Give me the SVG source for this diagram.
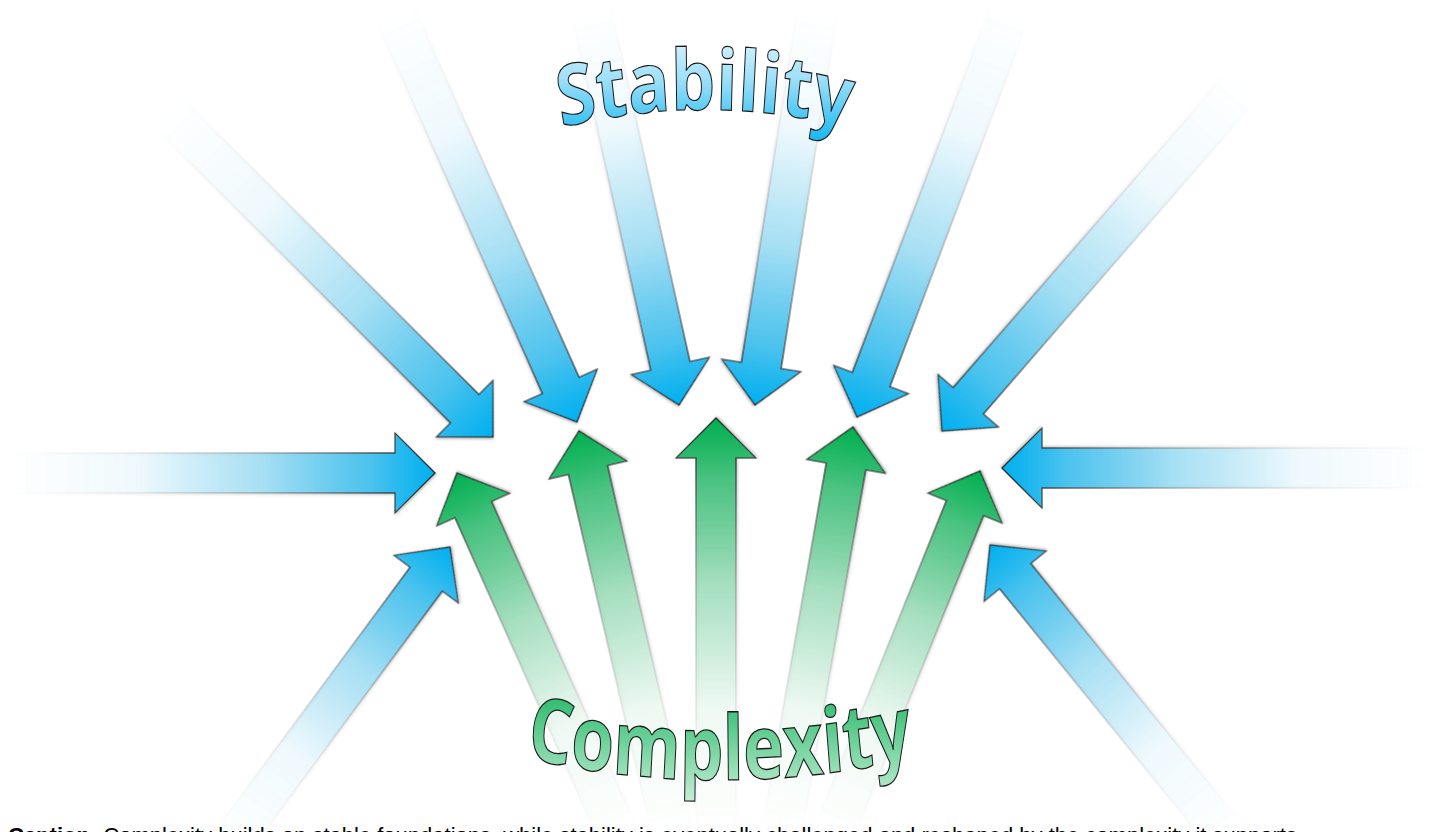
<svg xmlns="http://www.w3.org/2000/svg" width="1445" height="832" viewBox="0 0 1445 832">
<defs>
<linearGradient id="gBlue" x1="0" y1="0" x2="1" y2="0">
<stop offset="0" stop-color="#00b0f0" stop-opacity="0"/>
<stop offset="0.3" stop-color="#00b0f0" stop-opacity="0.05"/>
<stop offset="0.6" stop-color="#00b0f0" stop-opacity="0.3"/>
<stop offset="0.85" stop-color="#00b0f0" stop-opacity="0.65"/>
<stop offset="1" stop-color="#00b0f0" stop-opacity="1"/>
</linearGradient>
<linearGradient id="gGreen" x1="0" y1="0" x2="1" y2="0">
<stop offset="0" stop-color="#00b050" stop-opacity="0"/>
<stop offset="0.3" stop-color="#00b050" stop-opacity="0.05"/>
<stop offset="0.6" stop-color="#00b050" stop-opacity="0.3"/>
<stop offset="0.85" stop-color="#00b050" stop-opacity="0.65"/>
<stop offset="1" stop-color="#00b050" stop-opacity="1"/>
</linearGradient>
<linearGradient id="gStroke" x1="0" y1="0" x2="1" y2="0">
<stop offset="0" stop-color="#b0b0b0" stop-opacity="0"/>
<stop offset="0.25" stop-color="#9a9a9a" stop-opacity="0.15"/>
<stop offset="0.6" stop-color="#707070" stop-opacity="0.5"/>
<stop offset="1" stop-color="#202020" stop-opacity="0.95"/>
</linearGradient>
<linearGradient id="gStab" x1="0" y1="0" x2="0" y2="1">
<stop offset="0" stop-color="#f4fbfe"/>
<stop offset="0.45" stop-color="#9ee0f9"/>
<stop offset="1" stop-color="#00b0f0"/>
</linearGradient>
<linearGradient id="gComp" x1="0" y1="0" x2="0" y2="1">
<stop offset="0" stop-color="#00ac4e"/>
<stop offset="0.55" stop-color="#6ed19a"/>
<stop offset="1" stop-color="#cdf0da"/>
</linearGradient>
<filter id="shadow" x="-10%" y="-10%" width="120%" height="120%">
<feDropShadow dx="1.2" dy="1.2" stdDeviation="0.8" flood-color="#000" flood-opacity="0.25"/>
</filter>
<path id="arcStab" d="M558,127 A700,700 0 0,1 852,127"/>
<path id="arcComp" d="M545,765 A1116,1116 0 0,0 895,765"/>
</defs>
<style>
.blue{fill:url(#gBlue);stroke:url(#gStroke);stroke-width:1.3;stroke-linejoin:miter;filter:url(#shadow)}
.green{fill:url(#gGreen);stroke:url(#gStroke);stroke-width:1.3;stroke-linejoin:miter;filter:url(#shadow)}
.word{font-family:"Open Sans","Noto Sans","DejaVu Sans",sans-serif;font-weight:bold;stroke:#1a1a1a;stroke-width:1}
.cap{font-family:"Liberation Sans",Arial,sans-serif;font-size:22px;fill:#000}
</style>
<rect width="1445" height="832" fill="#ffffff"/>
<g id="connectors">
<path class="blue" transform="translate(493,437) rotate(45)" d="M0,0 L-40,-40 L-40,-20 L-460,-20 L-460,20 L-40,20 L-40,40 Z"/>
<path class="blue" transform="translate(577,422) rotate(66)" d="M0,0 L-40,-40 L-40,-20 L-450,-20 L-450,20 L-40,20 L-40,40 Z"/>
<path class="blue" transform="translate(679,405) rotate(77.5)" d="M0,0 L-40,-40 L-40,-20 L-405,-20 L-405,20 L-40,20 L-40,40 Z"/>
<path class="blue" transform="translate(755,405) rotate(99)" d="M0,0 L-40,-40 L-40,-20 L-400,-20 L-400,20 L-40,20 L-40,40 Z"/>
<path class="blue" transform="translate(857,417) rotate(110.7)" d="M0,0 L-40,-40 L-40,-20 L-435,-20 L-435,20 L-40,20 L-40,40 Z"/>
<path class="blue" transform="translate(942,431) rotate(131)" d="M0,0 L-40,-40 L-40,-20 L-460,-20 L-460,20 L-40,20 L-40,40 Z"/>
<path class="blue" transform="translate(1002,468) rotate(180)" d="M0,0 L-40,-40 L-40,-20 L-425,-20 L-425,20 L-40,20 L-40,40 Z"/>
<path class="blue" transform="translate(435,473) rotate(0)" d="M0,0 L-40,-40 L-40,-20 L-425,-20 L-425,20 L-40,20 L-40,40 Z"/>
<path class="blue" transform="translate(450,547) rotate(-53.5)" d="M0,0 L-40,-40 L-40,-20 L-370,-20 L-370,20 L-40,20 L-40,40 Z"/>
<path class="blue" transform="translate(990,545) rotate(-129)" d="M0,0 L-40,-40 L-40,-20 L-375,-20 L-375,20 L-40,20 L-40,40 Z"/>
<path class="green" transform="translate(457,473) rotate(-114)" d="M0,0 L-40,-40 L-40,-20 L-395,-20 L-395,20 L-40,20 L-40,40 Z"/>
<path class="green" transform="translate(579,431) rotate(-103)" d="M0,0 L-40,-40 L-40,-20 L-412,-20 L-412,20 L-40,20 L-40,40 Z"/>
<path class="green" transform="translate(716,418) rotate(-90)" d="M0,0 L-40,-40 L-40,-20 L-414,-20 L-414,20 L-40,20 L-40,40 Z"/>
<path class="green" transform="translate(853,427) rotate(-80)" d="M0,0 L-40,-40 L-40,-20 L-411,-20 L-411,20 L-40,20 L-40,40 Z"/>
<path class="green" transform="translate(980,471) rotate(-68)" d="M0,0 L-40,-40 L-40,-20 L-390,-20 L-390,20 L-40,20 L-40,40 Z"/>
</g>
<g id="stability" transform="translate(0,120) scale(1,1.2) translate(0,-120)">
<text class="word" font-size="70" fill="url(#gStab)"><textPath href="#arcStab" startOffset="50%" text-anchor="middle">Stability</textPath></text>
</g>
<g id="complexity" transform="translate(0,775) scale(1,1.3) translate(0,-775)">
<text class="word" font-size="69" fill="url(#gComp)"><textPath href="#arcComp" startOffset="50%" text-anchor="middle">Complexity</textPath></text>
</g>
<g id="caption">
<text class="cap" x="8" y="843"><tspan font-weight="bold">Caption:</tspan> Complexity builds on stable foundations, while stability is eventually challenged and reshaped by the complexity it supports.</text>
</g>
</svg>
